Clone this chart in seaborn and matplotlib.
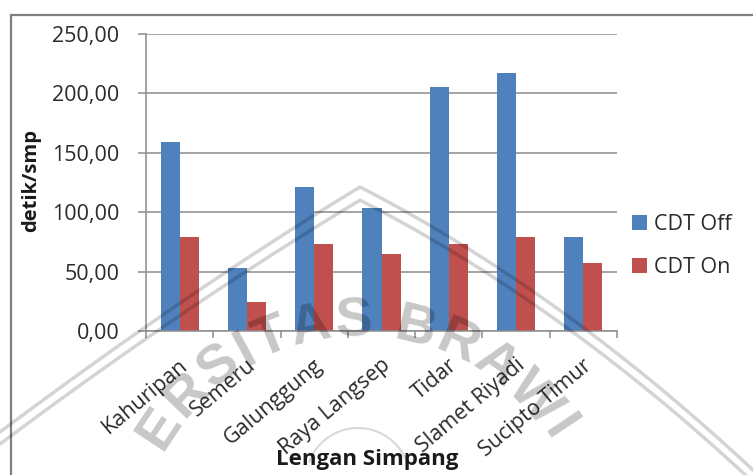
import numpy as np
import pandas as pd
import matplotlib
matplotlib.use("Agg")
import matplotlib.pyplot as plt
import seaborn as sns
from matplotlib.patches import Rectangle
from matplotlib.ticker import FixedLocator, FuncFormatter
from matplotlib.transforms import ScaledTranslation

# Tundaan (detik/smp) per lengan simpang
lengan = ["Kahuripan", "Semeru", "Galunggung", "Raya Langsep",
          "Tidar", "Slamet Riyadi", "Sucipto Timur"]
cdt_off = [159.5, 53.0, 121.5, 103.5, 205.0, 217.5, 79.5]
cdt_on = [79.5, 24.0, 73.0, 65.0, 73.0, 79.5, 57.0]
kondisi = ["CDT Off", "CDT On"]
y_ticks = [0, 50, 100, 150, 200, 250]

df = pd.DataFrame({
    "Lengan Simpang": lengan * 2,
    "detik/smp": cdt_off + cdt_on,
    "Kondisi": [kondisi[0]] * len(lengan) + [kondisi[1]] * len(lengan),
})

sns.set_theme(style="white")
plt.rcParams["font.family"] = ["Open Sans", "DejaVu Sans"]

W, H = 753, 475
fig = plt.figure(figsize=(W / 100, H / 100), dpi=100)
fig.patch.set_facecolor("white")


def fx(px):
    return px / W


def fy(py):
    return 1 - py / H


ax = fig.add_axes([fx(146), fy(331), fx(617) - fx(146), fy(34) - fy(331)])
sns.barplot(data=df, x="Lengan Simpang", y="detik/smp", hue="Kondisi",
            palette={"CDT Off": "#4F81BD", "CDT On": "#C0504D"},
            width=0.565, gap=0, saturation=1, errorbar=None,
            linewidth=0, ax=ax)

grey = "#8c8c8c"
txt = "#2b2b2b"
ax.set_xlim(-0.5, len(lengan) - 0.5)
ax.set_ylim(0, 250)
ax.set_axisbelow(True)
ax.yaxis.grid(True, color=grey, lw=1.1)
for s in ("top", "right"):
    ax.spines[s].set_visible(False)
for s in ("left", "bottom"):
    ax.spines[s].set_color(grey)
    ax.spines[s].set_linewidth(1.1)

ax.set_yticks(y_ticks)
ax.yaxis.set_major_formatter(FuncFormatter(lambda v, _: f"{v:.2f}".replace(".", ",")))
ax.tick_params(axis="y", direction="out", length=6, width=1.1, color=grey,
               labelsize=15.5, labelcolor=txt, pad=13, left=True)

ax.xaxis.set_minor_locator(FixedLocator(np.arange(-0.5, len(lengan), 1.0)))
ax.tick_params(axis="x", which="minor", direction="out", length=5, width=1.1,
               color=grey, bottom=True)
ax.tick_params(axis="x", which="major", length=0, labelsize=15.5,
               labelcolor=txt, pad=23)
for lab in ax.get_xticklabels():
    lab.set_rotation(40)
    lab.set_ha("right")
    lab.set_va("center")
    lab.set_rotation_mode("anchor")
    lab.set_transform(lab.get_transform() + ScaledTranslation(6 / 100, 0, fig.dpi_scale_trans))

ax.set_xlabel("")
ax.set_ylabel("")
fig.text(fx(31), fy(181), "detik/smp", rotation=90, ha="center", va="center",
         fontsize=14.5, fontweight="bold", color="#1a1a1a")
fig.text(fx(367), fy(459), "Lengan Simpang", ha="center", va="center",
         fontsize=16, fontweight="bold", color="#1a1a1a")

handles, labels = ax.get_legend_handles_labels()
ax.legend(handles, labels, loc="center left",
          bbox_to_anchor=(fx(613), fy(246)), bbox_transform=fig.transFigure,
          frameon=False, fontsize=15.5, handlelength=0.7, handleheight=0.7,
          handletextpad=0.3, labelspacing=1.0, labelcolor=txt)

# chart area frame
fig.patches.append(Rectangle((fx(11), -0.2), 1.2, fy(15) + 0.2,
                             transform=fig.transFigure, fill=False,
                             ec="#7f7f7f", lw=1.6, zorder=0))

# faint university watermark over everything
wm = fig.add_axes([0, 0, 1, 1], zorder=10)
wm.set_xlim(0, W)
wm.set_ylim(H, 0)
wm.axis("off")
wm.patch.set_alpha(0)

# letters set on an arc with proportional (Arial Bold) advances
adv = {"U": .722, "N": .722, "I": .278, "V": .667, "E": .667, "R": .722,
       "S": .667, "T": .611, "A": .722, " ": .278, "B": .722, "W": .944,
       "J": .556, "Y": .667}
cx, cy, r = 359, 561, 239
wm_size = 40
em = wm_size / 72 * 100
track = 4.3
word = "UNIVERSITAS BRAWIJAYA"
ang = [0.0]
for a, b in zip(word[:-1], word[1:]):
    ang.append(ang[-1] + ((adv[a] + adv[b]) / 2 * em + track) / r)
ang = np.array(ang)
ang = np.deg2rad(156.3) - (ang - ang[word.index("V")])
for ch, th in zip(word, ang):
    if ch == " ":
        continue
    x = cx + r * np.cos(th)
    y = cy - r * np.sin(th)
    if y > H - 36:
        continue
    wm.text(x, y, ch, rotation=np.rad2deg(th) - 90, ha="center", va="center",
            fontsize=wm_size, fontweight="bold", family="Liberation Sans",
            color="black", alpha=0.22, rotation_mode="anchor")


def bez(p0, p1, p2, n=60):
    t = np.linspace(0, 1, n)[:, None]
    return (1 - t) ** 2 * np.array(p0) + 2 * (1 - t) * t * np.array(p1) + t ** 2 * np.array(p2)


for off in (0, 12):
    left = bez((0, 432 + off), (190, 290 + off), (360, 187 + off * 1.1))
    right = bez((360, 187 + off * 1.1), (560, 290 + off), (753, 470 + off))
    pts = np.vstack([left, right])
    wm.plot(pts[:, 0], pts[:, 1], color="black", alpha=0.17, lw=2.5,
            solid_capstyle="round")

t = np.linspace(np.deg2rad(20), np.deg2rad(160), 80)
wm.plot(358 + 52 * np.cos(t), 480 - 52 * np.sin(t), color="black", alpha=0.15, lw=1.5)

fig.savefig("out.png", dpi=100, facecolor="white")
